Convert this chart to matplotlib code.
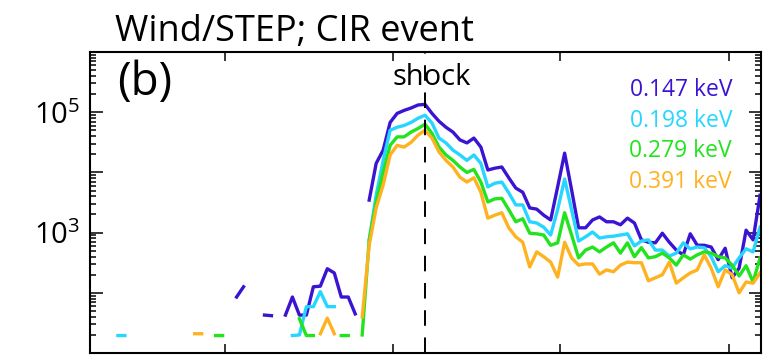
"""Wind/STEP suprathermal ion intensities around a CIR shock, panel (b)."""

import numpy as np
import matplotlib
matplotlib.use('Agg')
import matplotlib.pyplot as plt
from matplotlib.ticker import FixedLocator, LogLocator, FuncFormatter, NullFormatter

plt.rcParams['font.family'] = ['Open Sans', 'DejaVu Sans']
plt.rcParams['mathtext.fontset'] = 'custom'
plt.rcParams['mathtext.rm'] = 'Open Sans'

# energy channels and line colours
channels = ['0.147 keV', '0.198 keV', '0.279 keV', '0.391 keV']
colors = ['#3a14d2', '#26d6ff', '#22e31e', '#ffb21f']

# hours relative to the shock, main interval (shock at hour 0)
hours_main = np.arange(-9, 49)

# log10 intensity, hours -9 .. 48 (nan = no data)
log_147 = [np.nan, 3.54, 4.15, 4.37, 4.83, 4.98, 5.03, 5.07, 5.12, 5.13,
           4.98, 4.85, 4.75, 4.67, 4.54, 4.49, 4.57, 4.42, 4.04, 4.07,
           4.09, 3.91, 3.74, 3.67, 3.41, 3.39, 3.29, 3.21, 3.76, 4.32,
           3.71, 3.08, 3.08, 3.21, 3.26, 3.18, 3.18, 3.13, 3.24, 3.16,
           2.88, 2.84, 2.83, 2.99, 2.84, 2.71, 2.63, 2.98, 2.79, 2.79,
           2.76, 2.55, 2.74, 2.25, 2.41, 3.04, 2.88, 3.62]
log_198 = [np.nan, 2.88, 3.62, 4.20, 4.70, 4.75, 4.78, 4.83, 4.90, 4.95,
           4.82, 4.57, 4.49, 4.37, 4.29, 4.20, 4.29, 4.15, 3.76, 3.82,
           3.84, 3.66, 3.46, 3.46, 3.18, 3.16, 3.09, 2.96, 3.38, 3.89,
           3.38, 2.86, 2.93, 3.01, 2.91, 2.93, 2.94, 2.96, 2.98, 2.78,
           2.86, 2.88, 2.71, 2.71, 2.61, 2.66, 2.83, 2.73, 2.76, 2.75,
           2.60, 2.35, 2.45, 2.41, 2.58, 2.73, 2.68, 3.09]
log_279 = [1.30, 2.88, 3.51, 4.00, 4.45, 4.59, 4.59, 4.67, 4.73, 4.80,
           4.65, 4.42, 4.29, 4.20, 4.09, 4.00, 4.05, 3.84, 3.51, 3.56,
           3.57, 3.38, 3.18, 3.23, 2.99, 2.98, 2.96, 2.79, 2.83, 3.33,
           2.96, 2.58, 2.71, 2.76, 2.68, 2.76, 2.83, 2.66, 2.83, 2.60,
           2.75, 2.58, 2.60, 2.66, 2.58, 2.46, 2.63, 2.56, 2.63, 2.68,
           2.66, 2.60, 2.58, 2.46, 2.28, 2.45, 2.18, 2.58]
log_391 = [1.60, 2.79, 3.41, 3.79, 4.29, 4.45, 4.42, 4.50, 4.62, 4.70,
           4.57, 4.34, 4.20, 4.09, 3.92, 3.84, 3.91, 3.67, 3.24, 3.29,
           3.33, 3.08, 2.93, 2.84, 2.43, 2.68, 2.60, 2.51, 2.26, 2.84,
           2.58, 2.46, 2.48, 2.48, 2.31, 2.38, 2.35, 2.46, 2.51, 2.50,
           2.50, 2.20, 2.25, 2.30, 2.51, 2.16, 2.25, 2.33, 2.38, 2.63,
           2.41, 2.10, 2.38, 2.30, 2.00, 2.18, 2.16, 2.33]

# sparse pre-shock points (hour, log10 intensity)
pre_hours_147 = [-27, -26, -23, -22, -20, -19, -18, -17, -16, -15, -14, -13, -12, -11, -10]
pre_log_147 = [1.93, 2.10, 1.63, 1.62, 1.63, 1.93, 1.63, 1.63, 2.10, 2.11, 2.40, 2.33, 1.93, 1.93, 1.65]
pre_hours_198 = [-44, -43, -19, -18, -17, -16, -15, -14, -13]
pre_log_198 = [1.29, 1.29, 1.29, 1.30, 1.77, 1.77, 2.02, 1.77, 1.77]
pre_hours_279 = [-30, -29, -18, -17, -16, -12, -11]
pre_log_279 = [1.29, 1.29, 1.57, 1.29, 1.29, 1.29, 1.29]
pre_hours_391 = [-33, -32, -15, -14, -13]
pre_log_391 = [1.32, 1.32, 1.32, 1.58, 1.32]

main_logs = [log_147, log_198, log_279, log_391]
pre_hours = [pre_hours_147, pre_hours_198, pre_hours_279, pre_hours_391]
pre_logs = [pre_log_147, pre_log_198, pre_log_279, pre_log_391]

hours = np.arange(-44, 49)

fig = plt.figure(figsize=(7.84, 3.56), dpi=100)
ax = fig.add_axes([0.1148, 0.0084, 0.8559, 0.8455])

for main, ph, pl, col in zip(main_logs, pre_hours, pre_logs, colors):
    series = np.full(len(hours), np.nan)
    series[hours >= -9] = main
    for h, v in zip(ph, pl):
        series[h + 44] = v
    ax.plot(hours, 10.0 ** series, color=col, lw=2.4)

ax.set_yscale('log')
ax.set_ylim(10, 1e6)
ax.set_xlim(-48.0, 48.14)

# shock marker
ax.axvline(0, color='black', lw=1.4, dashes=(8, 6))
fig.text(0.501, 1 - 85 / 356, 'shock', fontsize=21, ha='left', va='baseline')

# axis styling
for sp in ax.spines.values():
    sp.set_linewidth(1.5)
ax.xaxis.set_major_locator(FixedLocator([-28.65, -4.58, 19.34, 43.55]))
ax.xaxis.set_major_formatter(NullFormatter())
ax.yaxis.set_major_locator(LogLocator(base=10, numticks=10))
ax.yaxis.set_minor_locator(LogLocator(base=10, subs=np.arange(2, 10), numticks=20))
ax.yaxis.set_minor_formatter(NullFormatter())


def ylab(v, pos):
    e = int(round(np.log10(v)))
    if e in (3, 5):
        return r'$\mathregular{10^{%d}}$' % e
    return ''


ax.yaxis.set_major_formatter(FuncFormatter(ylab))
ax.tick_params(axis='both', which='both', direction='in', top=True, right=True, width=1.1)
ax.tick_params(axis='y', which='major', length=9, labelsize=21, pad=7)
ax.tick_params(axis='y', which='minor', length=4.5)
ax.tick_params(axis='x', which='major', length=6.5)

# title and panel label
fig.text(0.147, 1 - 41 / 356, 'Wind/STEP; CIR event', fontsize=26, ha='left', va='baseline')
fig.text(0.150, 1 - 95 / 356, '(b)', fontsize=33, ha='left', va='baseline')

# channel labels
baselines = [96, 127, 157, 188]
for name, col, yb in zip(channels, colors, baselines):
    fig.text(732 / 784, 1 - yb / 356, name, color=col, fontsize=16.5, ha='right', va='baseline')

fig.savefig('out.png', dpi=100)
